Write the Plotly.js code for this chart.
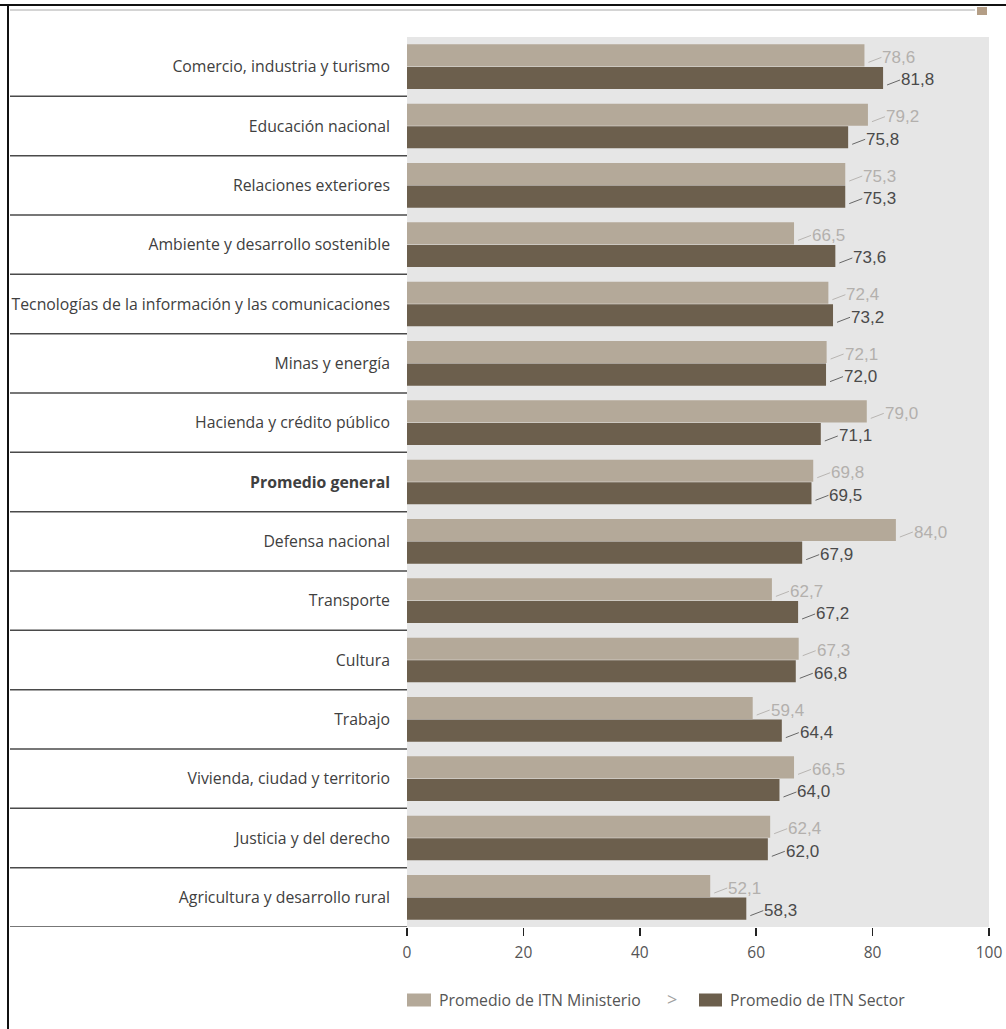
<!DOCTYPE html>
<html>
<head>
<meta charset="utf-8">
<script src="https://cdn.plot.ly/plotly-3.0.1.min.js"></script>
<style>html,body{margin:0;padding:0;background:#fff;}#chart{width:1006px;height:1029px;}</style>
</head>
<body>
<div id="chart"></div>
<script>
var categories = [
  "Comercio, industria y turismo",
  "Educación nacional",
  "Relaciones exteriores",
  "Ambiente y desarrollo sostenible",
  "Tecnologías de la información y las comunicaciones",
  "Minas y energía",
  "Hacienda y crédito público",
  "Promedio general",
  "Defensa nacional",
  "Transporte",
  "Cultura",
  "Trabajo",
  "Vivienda, ciudad y territorio",
  "Justicia y del derecho",
  "Agricultura y desarrollo rural"
];
var ministerio = [78.6, 79.2, 75.3, 66.5, 72.4, 72.1, 79.0, 69.8, 84.0, 62.7, 67.3, 59.4, 66.5, 62.4, 52.1];
var sector     = [81.8, 75.8, 75.3, 73.6, 73.2, 72.0, 71.1, 69.5, 67.9, 67.2, 66.8, 64.4, 64.0, 62.0, 58.3];
var xTicks = [0, 20, 40, 60, 80, 100];
var seriesNames = ["Promedio de ITN Ministerio", "Promedio de ITN Sector"];
var boldCategory = "Promedio general";

var lightColor = "#b4a999";
var darkColor = "#6c5f4d";

function fmt(v) { return v.toFixed(1).replace(".", ","); }

var tickText = categories.map(function (c) { return c === boldCategory ? "<b>" + c + "</b>" : c; });

var traces = [
  { type: "bar", orientation: "h", name: seriesNames[0], y: categories, x: ministerio,
    marker: { color: lightColor }, hoverinfo: "x+y" },
  { type: "bar", orientation: "h", name: seriesNames[1], y: categories, x: sector,
    marker: { color: darkColor }, hoverinfo: "x+y" }
];

// pixel helpers (plot area: x 407..989, y 37..927)
var PL = 407, PW = 582, PT = 37, PH = 890;
function px(xp) { return (xp - PL) / PW; }
function py(yp) { return (PT + PH - yp) / PH; }

var annotations = [];
function addLabels(vals, shiftY, color, lineColor) {
  vals.forEach(function (v, i) {
    annotations.push({
      x: v, y: categories[i], xref: "x", yref: "y",
      text: fmt(v), showarrow: true, arrowhead: 0, arrowwidth: 1, arrowcolor: lineColor,
      ax: 13, ay: -5, xanchor: "left", yanchor: "middle",
      xshift: 4, yshift: shiftY - 7, borderpad: 0,
      font: { family: "Liberation Sans, Arial, sans-serif", size: 17, color: color }
    });
  });
}
addLabels(ministerio, 11.3, "#b3b0ad", "#b8b5b2");
addLabels(sector, -11.3, "#4a4a4a", "#666666");

// legend (drawn manually to match the wide swatches)
var legendY = 1000;
var legendItems = [
  { name: seriesNames[0], color: lightColor, box: [407, 431], textX: 437 },
  { name: seriesNames[1], color: darkColor, box: [699, 722], textX: 728 }
];
var shapes = [];
legendItems.forEach(function (it) {
  shapes.push({ type: "rect", xref: "paper", yref: "paper",
    x0: px(it.box[0]), x1: px(it.box[1]), y0: py(legendY - 6.5), y1: py(legendY + 6.5),
    line: { width: 0 }, fillcolor: it.color });
  annotations.push({ xref: "paper", yref: "paper", x: px(it.textX), y: py(legendY),
    text: it.name, showarrow: false, xanchor: "left", yanchor: "middle",
    font: { family: "Open Sans, sans-serif", size: 15.8, color: "#555" } });
});
annotations.push({
  xref: "paper", yref: "paper", x: px(672), y: py(legendY - 1),
  text: "&gt;", showarrow: false, xanchor: "center", yanchor: "middle",
  font: { family: "Open Sans, sans-serif", size: 18, color: "#a0a0a0" }
});

for (var i = 0; i < categories.length; i++) {
  shapes.push({ type: "line", xref: "paper", yref: "y", x0: px(10), x1: 0,
    y0: i + 0.5, y1: i + 0.5, line: { color: "#4a4a4a", width: 1.5 } });
}
// frame and decorations
shapes.push({ type: "line", xref: "paper", yref: "paper", x0: px(0), x1: px(1006),
  y0: py(5), y1: py(5), line: { color: "#111", width: 2 } });
shapes.push({ type: "line", xref: "paper", yref: "paper", x0: px(8), x1: px(8),
  y0: py(4), y1: py(1029), line: { color: "#111", width: 2 } });
shapes.push({ type: "line", xref: "paper", yref: "paper", x0: px(10), x1: px(975),
  y0: py(10), y1: py(10), line: { color: "#d4d4d4", width: 2 } });
shapes.push({ type: "rect", xref: "paper", yref: "paper", x0: px(977), x1: px(987),
  y0: py(7), y1: py(15), line: { width: 0 }, fillcolor: "#b49e86" });

var layout = {
  width: 1006, height: 1029,
  margin: { l: PL, r: 1006 - PL - PW, t: PT, b: 1029 - PT - PH },
  paper_bgcolor: "#ffffff",
  plot_bgcolor: "#e6e6e6",
  barmode: "group",
  bargap: 0.24,
  bargroupgap: 0.02,
  showlegend: false,
  xaxis: {
    range: [0, 100], tickvals: xTicks, ticktext: xTicks.map(String),
    showgrid: false, zeroline: false, showline: false,
    ticks: "outside", ticklen: 8, tickwidth: 1.5, tickcolor: "#222",
    ticklabelstandoff: 3,
    tickfont: { family: "Open Sans, sans-serif", size: 15.5, color: "#555" },
    fixedrange: true
  },
  yaxis: {
    type: "category", categoryorder: "array", categoryarray: categories,
    tickvals: categories, ticktext: tickText,
    range: [14.5, -0.5], autorange: false,
    showgrid: false, zeroline: false, showline: false, ticks: "",
    ticklabelstandoff: 16,
    tickfont: { family: "Open Sans, sans-serif", size: 15.8, color: "#404040" },
    fixedrange: true
  },
  annotations: annotations,
  shapes: shapes
};

Plotly.newPlot("chart", traces, layout, { displayModeBar: false, staticPlot: true });
</script>
</body>
</html>
